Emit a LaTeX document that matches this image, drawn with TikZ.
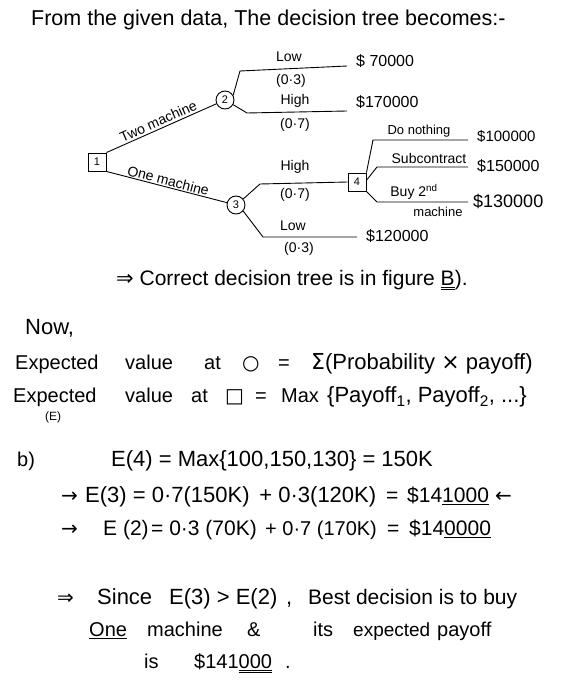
\documentclass[tikz,border=0pt]{standalone}
\usepackage{fontspec}
\setmainfont{Liberation Sans}
\newfontfamily\symf{DejaVu Sans}
\tikzset{
  every node/.style={inner sep=1pt},
  br/.style={line width=0.9pt},
  dec/.style={draw, line width=0.9pt, minimum size=18pt, inner sep=0pt, font=\fontsize{11}{13}\selectfont},
  chc/.style={draw, circle, line width=0.9pt, minimum size=18pt, inner sep=0pt, font=\fontsize{11}{13}\selectfont},
  lbl/.style={font=\fontsize{14}{16}\selectfont},
  pay/.style={font=\fontsize{16}{18}\selectfont, anchor=west},
  txt/.style={font=\fontsize{21}{24}\selectfont, anchor=west, execute at begin node=\strut},
  txs/.style={font=\fontsize{20}{24}\selectfont, anchor=west, execute at begin node=\strut},
}
\begin{document}
\begin{tikzpicture}[x=1pt,y=-1pt]
\useasboundingbox[fill=white] (0,0) rectangle (560,687);

\node[txt, font=\fontsize{21.5}{24}\selectfont] (title) at (30,21) {From the given data, The decision tree becomes:-};

% tree nodes
\node[dec] (n1) at (97,162) {1};
\node[chc] (n2) at (225,100) {2};
\node[chc] (n3) at (236,205) {3};
\node[dec] (n4) at (357,182) {4};

% decision branches
\draw[br] (n1.north east) -- (n2) node[lbl, midway, above=1pt, sloped] (tm) {Two machine};
\draw[br] (n1.south east) -- (n3) node[lbl, midway, above=0pt, sloped] (om) {One machine};

% chance node 2
\coordinate (a2l) at (240,71);
\coordinate (e2l) at (347,66);
\coordinate (a2h) at (247,113);
\coordinate (e2h) at (347,111);
\draw[br] (n2.30) -- (a2l) -- (e2l);
\draw[br] (n2.-30) -- (a2h) -- (e2h);
\node[lbl] (lw2) at (289,57) {Low};
\node[lbl] (pl2) at (291,81) {(0·3)};
\node[lbl] (hi2) at (295,101) {High};
\node[lbl] (ph2) at (295,125) {(0·7)};
\node[pay] (v2l) at (355,61) {\$ 70000};
\node[pay] (v2h) at (355,102) {\$170000};

% chance node 3
\coordinate (a3h) at (260,184);
\coordinate (a3l) at (263,237);
\coordinate (e3l) at (357,237);
\draw[br] (n3.40) -- (a3h) -- (n4.west);
\draw[br] (n3.-40) -- (a3l) -- (e3l);
\node[lbl] (hi3) at (295,167) {High};
\node[lbl] (ph3) at (295,195) {(0·7)};
\node[lbl] (lw3) at (293,226) {Low};
\node[lbl] (pl3) at (299,249) {(0·3)};
\node[pay] (v3l) at (365,236) {\$120000};

% decision node 4
\coordinate (a4a) at (373,140);
\coordinate (e4a) at (468,140);
\coordinate (a4b) at (377,167);
\coordinate (e4b) at (468,167);
\coordinate (a4c) at (377,202);
\coordinate (e4c) at (468,202);
\draw[br] (n4.north east) -- (a4a) -- (e4a);
\draw[br] (n4.10) -- (a4b) -- (e4b);
\draw[br] (n4.south east) -- (a4c) -- (e4c);
\node[lbl, font=\fontsize{13}{15}\selectfont] (dn) at (419,131) {Do nothing};
\node[lbl] (sc) at (429,158) {Subcontract};
\node[lbl] (bs) at (414,192) {Buy 2\textsuperscript{nd}};
\node[lbl, font=\fontsize{13}{15}\selectfont] (mc) at (438,212) {machine};
\node[pay, font=\fontsize{15}{17}\selectfont] (v4a) at (476,136) {\$100000};
\node[pay] (v4b) at (476,166) {\$150000};
\node[pay, font=\fontsize{18}{20}\selectfont] (v4c) at (472,201) {\$130000};

\node[txt] (corr) at (115,281) {{\symf ⇒} Correct decision tree is in figure $\underline{\underline{\mbox{B}}}$).};

% lower text
\node[txt, font=\fontsize{22}{24}\selectfont] (now) at (24,330) {Now,};

\node[txs] (ev1a) at (14,365) {Expected};
\node[txs] (ev1b) at (124,365) {value};
\node[txs] (ev1c) at (203,365) {at};
\node[txs] (ev1d) at (241,365) {\symf ○};
\node[txs] (ev1e) at (277,365) {=};
\node[txt, font=\fontsize{22}{24}\selectfont] (ev1f) at (310,365) {{\symf Σ}(Probability {\symf ×} payoff)};

\node[txs] (ev2a) at (12,398) {Expected};
\node[txs] (ev2b) at (124,398) {value};
\node[txs] (ev2c) at (190,398) {at};
\node[txs] (ev2d) at (224,398) {\symf □};
\node[txs] (ev2e) at (254,398) {=};
\node[txs] (ev2f) at (280,398) {Max};
\node[txt, font=\fontsize{22}{24}\selectfont] (ev2g) at (326,398) {\{Payoff\textsubscript{1}, Payoff\textsubscript{2}, ...\}};
\node[lbl, font=\fontsize{12}{14}\selectfont, anchor=west] (ee) at (44,417) {(E)};

\node[txs] (b) at (16,462) {b)};
\node[txt, font=\fontsize{22}{24}\selectfont] (e4) at (110,462) {E(4) = Max\{100,150,130\} = 150K};

\node[txs] (e3a) at (60,498) {\symf →};
\node[txt, font=\fontsize{22}{24}\selectfont] (e3b) at (84,498) {E(3) = 0·7(150K)\, + 0·3(120K)};
\node[txt] (e3c) at (385,498) {=};
\node[txt] (e3d) at (406,498) {\$14\underline{1000}};
\node[txs] (e3e) at (494,498) {\symf ←};

\node[txs] (e2a) at (60,531) {\symf →};
\node[txt] (e2b) at (102,531) {E (2)};
\node[txt] (e2c) at (150,531) {= 0·3 (70K)};
\node[txs] (e2d) at (264,531) {+ 0·7 (170K)};
\node[txt] (e2e) at (386,531) {=};
\node[txt] (e2f) at (408,531) {\$14\underline{0000}};

\node[txs] (s1a) at (56,600) {\symf ⇒};
\node[txt, font=\fontsize{22}{24}\selectfont] (s1b) at (96,600) {Since};
\node[txt, font=\fontsize{22}{24}\selectfont] (s1c) at (168,600) {E(3) > E(2)};
\node[txt, font=\fontsize{22}{24}\selectfont] (s1d) at (285,600) {,};
\node[txt] (s1e) at (307,600) {Best decision is to buy};

\node[txs] (s2a) at (88,632) {\underline{One}};
\node[txs] (s2b) at (146,632) {machine};
\node[txs] (s2c) at (246,632) {\&};
\node[txs] (s2d) at (312,632) {its};
\node[txs, font=\fontsize{19}{24}\selectfont] (s2e) at (352,632) {expected};
\node[txs] (s2f) at (436,632) {payoff};

\node[txs] (s3a) at (143,664) {is};
\node[txs] (s3b) at (193,664) {\$141$\underline{\underline{\mbox{000}}}$};
\node[txs] (s3c) at (284,664) {.};
\end{tikzpicture}
\end{document}
